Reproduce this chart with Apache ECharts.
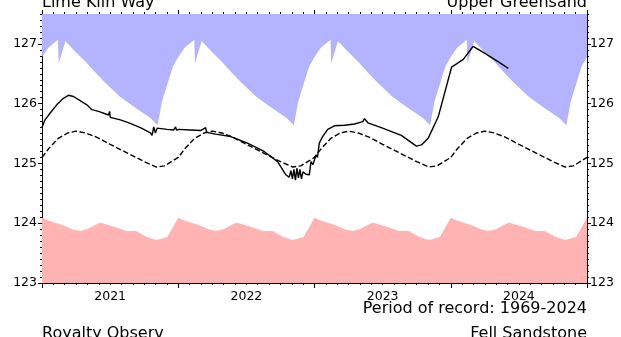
<!DOCTYPE html>
<html><head><meta charset="utf-8">
<script src="https://cdn.jsdelivr.net/npm/echarts@6/dist/echarts.min.js"></script>
<style>html,body{margin:0;padding:0;background:#fff}#c{width:621px;height:337px}</style>
</head><body><div id="c"></div>
<script>
// ---- data ----
const years = [2021, 2022, 2023, 2024];
const yearLabels = ['2021', '2022', '2023', '2024'];
const yTickLabels = [123, 124, 125, 126, 127];

// historical maximum (fraction of year -> level, m)
const maxFrac  = [0, 0.045, 0.09, 0.118, 0.122, 0.172, 0.24, 0.32, 0.40, 0.46, 0.575, 0.685, 0.796, 0.848, 0.88, 0.96, 0.98];
const maxLevel = [126.78, 126.93, 127.02, 127.07, 126.67, 127.05, 126.88, 126.70, 126.50, 126.36, 126.11, 125.93, 125.76, 125.64, 126.03, 126.62, 126.70];

// historical minimum
const minFrac  = [0, 0.05, 0.15, 0.22, 0.28, 0.33, 0.426, 0.53, 0.62, 0.69, 0.77, 0.84, 0.92];
const minLevel = [124.09, 124.04, 123.97, 123.90, 123.87, 123.90, 124.01, 123.94, 123.87, 123.87, 123.77, 123.72, 123.77];

// long-term mean
const meanFrac  = [0, 0.05, 0.12, 0.19, 0.25, 0.32, 0.40, 0.50, 0.63, 0.75, 0.84, 0.90, 0.95];
const meanLevel = [125.10, 125.25, 125.42, 125.51, 125.54, 125.51, 125.44, 125.32, 125.17, 125.03, 124.94, 124.96, 125.03];

// observed levels
const obsYear = [2021.000, 2021.022, 2021.059, 2021.108, 2021.157, 2021.194, 2021.231, 2021.280, 2021.329, 2021.366,
  2021.415, 2021.488, 2021.496, 2021.501, 2021.575, 2021.648, 2021.722, 2021.796, 2021.808, 2021.820,
  2021.832, 2021.845, 2021.919, 2021.967, 2021.980, 2021.987, 2022.002, 2022.090, 2022.164, 2022.201,
  2022.208, 2022.274, 2022.385, 2022.508, 2022.630, 2022.729, 2022.790, 2022.814, 2022.827, 2022.838,
  2022.849, 2022.860, 2022.871, 2022.882, 2022.893, 2022.904, 2022.915, 2022.937, 2022.962, 2022.974,
  2022.989, 2023.011, 2023.022, 2023.035, 2023.060, 2023.097, 2023.146, 2023.219, 2023.293, 2023.355,
  2023.367, 2023.392, 2023.490, 2023.637, 2023.748, 2023.785, 2023.834, 2023.908, 2024.006, 2024.092,
  2024.165, 2024.251, 2024.350, 2024.423];
const obsLevel = [125.60, 125.73, 125.84, 125.98, 126.09, 126.14, 126.12, 126.05, 125.98, 125.90,
  125.87, 125.81, 125.87, 125.77, 125.73, 125.67, 125.60, 125.51, 125.47, 125.61,
  125.51, 125.59, 125.57, 125.56, 125.61, 125.56, 125.57, 125.56, 125.55, 125.60,
  125.52, 125.49, 125.45, 125.34, 125.20, 125.03, 124.81, 124.77, 124.88, 124.74,
  124.90, 124.72, 124.92, 124.76, 124.90, 124.74, 124.86, 124.82, 124.81, 125.03,
  124.98, 125.14, 125.10, 125.34, 125.45, 125.57, 125.63, 125.64, 125.66, 125.70,
  125.75, 125.68, 125.60, 125.47, 125.29, 125.31, 125.42, 125.78, 126.61, 126.74,
  126.96, 126.84, 126.70, 126.59];

// ---- build ----
function expand(frac, level) {
  const out = [];
  years.forEach(y => frac.forEach((f, i) => out.push([y + f, level[i]])));
  out.push([years[years.length - 1] + 1, level[0]]);
  return out;
}
const FONT = 'DejaVu Sans';
const black = '#000';
const chart = echarts.init(document.getElementById('c'), null, { renderer: 'canvas' });

const xBase = { type: 'value', min: 2021, max: 2025, splitLine: { show: false } };
const yBase = { type: 'value', min: 123, max: 127.5, splitLine: { show: false } };
const yFmt = v => (Math.abs(v - Math.round(v)) < 1e-6 && v <= 127) ? String(Math.round(v)) : '';

chart.setOption({
  animation: false,
  backgroundColor: '#fff',
  grid: { left: 42, right: 34, top: 14, bottom: 54, containLabel: false },
  xAxis: [
    Object.assign({}, xBase, {
      position: 'bottom', interval: 1,
      axisLine: { show: true, onZero: false, lineStyle: { color: black, width: 1 } },
      axisTick: { show: true, length: 5, lineStyle: { color: black, width: 1 } },
      minorTick: { show: true, splitNumber: 12, length: 2, lineStyle: { color: black, width: 1 } },
      axisLabel: { show: false }
    }),
    Object.assign({}, xBase, {
      position: 'bottom', interval: 0.5,
      axisLine: { show: false }, axisTick: { show: false },
      axisLabel: {
        show: true, margin: 7, fontSize: 12.5, color: black, fontFamily: FONT,
        formatter: v => { const k = Math.round(v - 2021.5); return (Math.abs(v - 2021.5 - k) < 1e-6 && yearLabels[k]) ? yearLabels[k] : ''; }
      }
    }),
    Object.assign({}, xBase, {
      position: 'top', interval: 1,
      axisLine: { show: true, onZero: false, lineStyle: { color: black, width: 1 } },
      axisTick: { show: true, length: 4, lineStyle: { color: black, width: 1 } },
      minorTick: { show: true, splitNumber: 12, length: 2, lineStyle: { color: black, width: 1 } },
      axisLabel: { show: false }
    })
  ],
  yAxis: [
    Object.assign({}, yBase, {
      position: 'left', interval: 1,
      axisLine: { show: true, onZero: false, lineStyle: { color: black, width: 1 } },
      axisTick: { show: true, length: 4, customValues: yTickLabels, lineStyle: { color: black, width: 1 } },
      axisLabel: { show: true, margin: 5, fontSize: 12.5, color: black, fontFamily: FONT, formatter: yFmt }
    }),
    Object.assign({}, yBase, {
      position: 'left', interval: 0.1,
      axisLine: { show: false },
      axisTick: { show: true, length: 2, lineStyle: { color: black, width: 1 } },
      axisLabel: { show: false }
    }),
    Object.assign({}, yBase, {
      position: 'right', interval: 1,
      axisLine: { show: true, onZero: false, lineStyle: { color: black, width: 1 } },
      axisTick: { show: true, length: 4, customValues: yTickLabels, lineStyle: { color: black, width: 1 } },
      axisLabel: { show: true, margin: 3, fontSize: 12.5, color: black, fontFamily: FONT, formatter: yFmt }
    }),
    Object.assign({}, yBase, {
      position: 'right', interval: 0.1,
      axisLine: { show: false },
      axisTick: { show: true, length: 2, lineStyle: { color: black, width: 1 } },
      axisLabel: { show: false }
    })
  ],
  series: [
    { name: 'Maximum', type: 'line', xAxisIndex: 0, yAxisIndex: 0, data: expand(maxFrac, maxLevel),
      symbol: 'none', lineStyle: { width: 0 }, areaStyle: { color: '#b3b3ff', opacity: 1, origin: 'end' }, z: 1, silent: true },
    { name: 'Minimum', type: 'line', xAxisIndex: 0, yAxisIndex: 0, data: expand(minFrac, minLevel),
      symbol: 'none', lineStyle: { width: 0 }, areaStyle: { color: '#ffb3b3', opacity: 1, origin: 'start' }, z: 1, silent: true },
    { name: 'Mean', type: 'line', xAxisIndex: 0, yAxisIndex: 0, data: expand(meanFrac, meanLevel),
      symbol: 'none', lineStyle: { color: black, width: 1.4, type: [5.5, 2.5] }, z: 2, silent: true },
    { name: 'Observed', type: 'line', xAxisIndex: 0, yAxisIndex: 0, data: obsYear.map((y, i) => [y, obsLevel[i]]),
      symbol: 'none', lineStyle: { color: black, width: 1.4 }, z: 3, silent: true }
  ],
  graphic: [
    { type: 'text', x: 42, y: 3, style: { text: 'Lime Kiln Way', fontSize: 16, fontFamily: FONT, fill: black, align: 'left', verticalAlign: 'middle', textAlign: 'left', textVerticalAlign: 'middle' } },
    { type: 'text', x: 587, y: 3, style: { text: 'Upper Greensand', fontSize: 16, fontFamily: FONT, fill: black, align: 'right', verticalAlign: 'middle', textAlign: 'right', textVerticalAlign: 'middle' } },
    { type: 'text', x: 587, y: 309, style: { text: 'Period of record: 1969-2024', fontSize: 16, fontFamily: FONT, fill: black, align: 'right', verticalAlign: 'middle', textAlign: 'right', textVerticalAlign: 'middle' } },
    { type: 'text', x: 42, y: 334, style: { text: 'Royalty Observ', fontSize: 16, fontFamily: FONT, fill: black, align: 'left', verticalAlign: 'middle', textAlign: 'left', textVerticalAlign: 'middle' } },
    { type: 'text', x: 587, y: 334, style: { text: 'Fell Sandstone', fontSize: 16, fontFamily: FONT, fill: black, align: 'right', verticalAlign: 'middle', textAlign: 'right', textVerticalAlign: 'middle' } }
  ]
});
</script>
</body></html>
